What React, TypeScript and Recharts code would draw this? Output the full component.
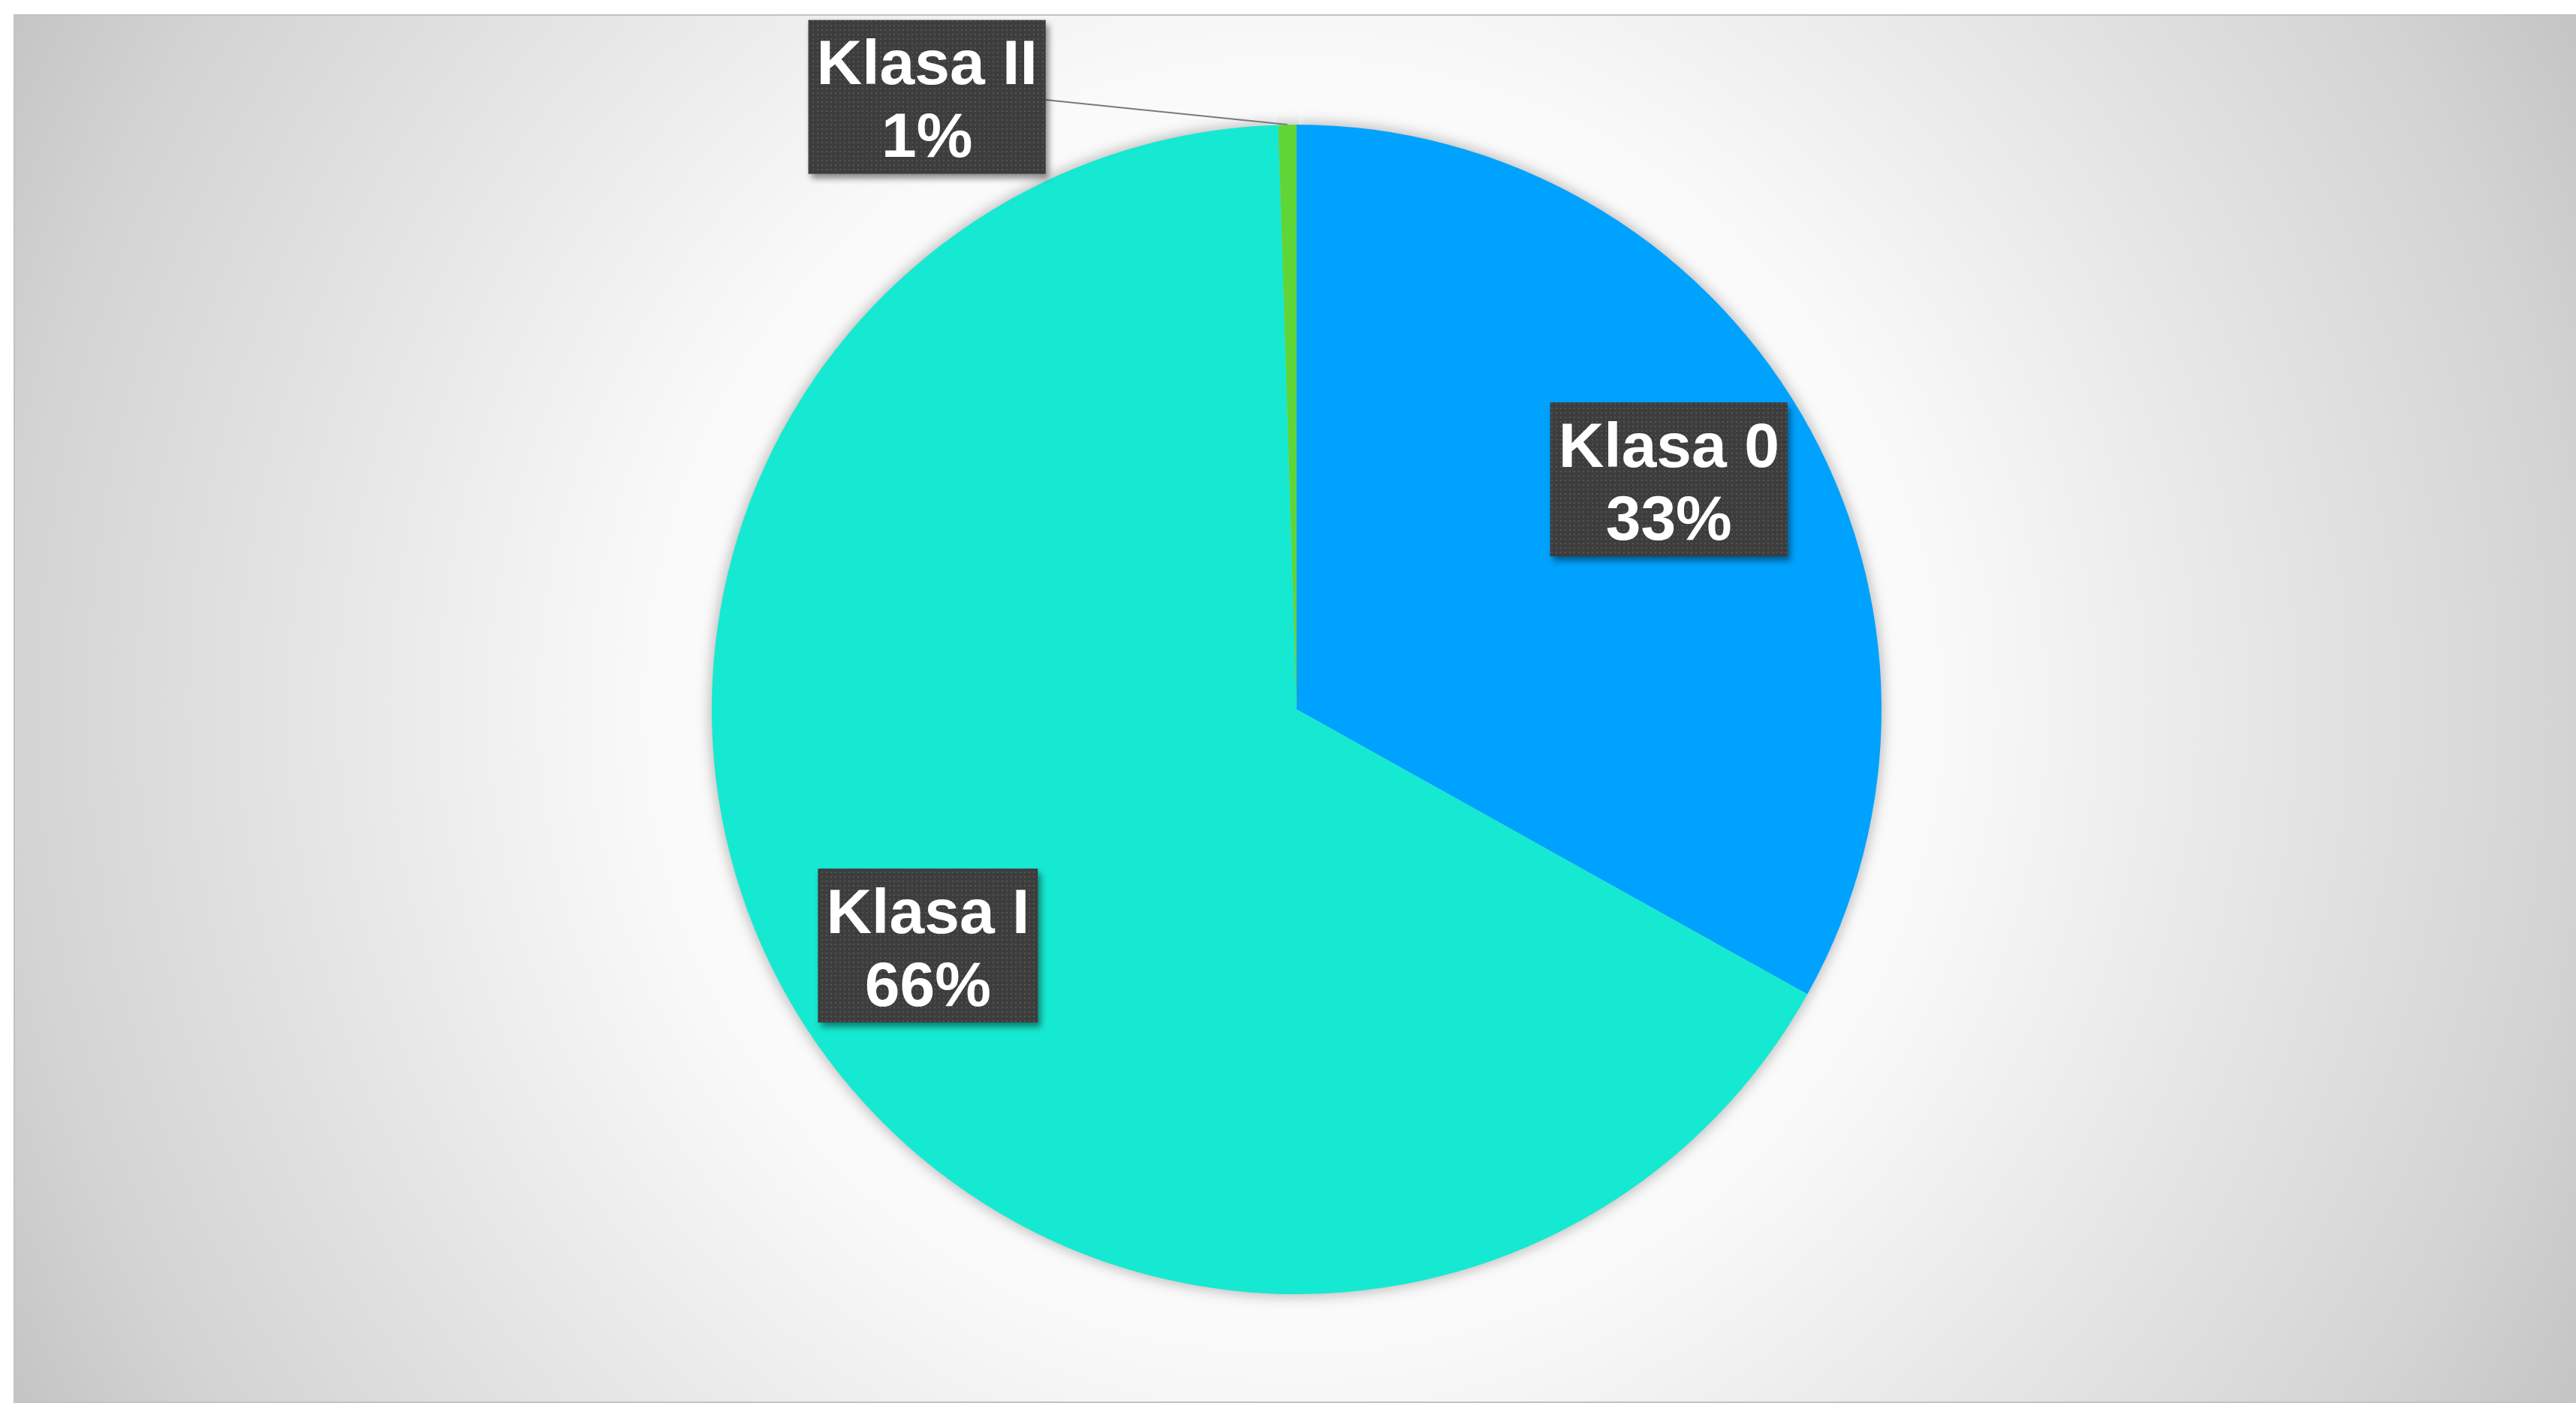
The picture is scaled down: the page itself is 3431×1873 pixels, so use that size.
import React from 'react';
import { PieChart, Pie, Cell } from 'recharts';

const names = ['Klasa 0', 'Klasa I', 'Klasa II'];
const values = [33.1, 66.4, 0.5];
const colors = ['#00A2FF', '#16E9D1', '#5FD637'];

const data = names.map((name, i) => ({ name, value: values[i] }));

const FONT = '"Liberation Sans", Arial, sans-serif';
const FONT_SIZE = 84;
const RAD = Math.PI / 180;

let measureCtx: CanvasRenderingContext2D | null = null;
const textWidth = (s: string) => {
  if (!measureCtx && typeof document !== 'undefined') {
    measureCtx = document.createElement('canvas').getContext('2d');
  }
  if (!measureCtx) return s.length * 47;
  measureCtx.font = `bold ${FONT_SIZE}px ${FONT}`;
  return measureCtx.measureText(s).width;
};

const renderLabel = (props: any) => {
  const { cx, cy, midAngle, outerRadius, percent, name } = props;
  const lines = [name, `${Math.round(percent * 100)}%`];
  const w = Math.max(...lines.map(textWidth)) + 22;
  const h = 205;
  let bx: number;
  let by: number;
  let leader: React.ReactNode = null;

  if (percent > 0.05) {
    // inside the slice, like Excel's best fit
    bx = cx + outerRadius * 0.738 * Math.cos(-midAngle * RAD);
    by = cy + outerRadius * 0.777 * Math.sin(-midAngle * RAD);
  } else {
    // tiny slice: box up-left with a leader line to the arc
    const ax = cx + outerRadius * Math.cos(-midAngle * RAD);
    const ay = cy + outerRadius * Math.sin(-midAngle * RAD);
    bx = ax - 322 - w / 2;
    by = ay - 37;
    leader = (
      <line x1={bx + w / 2} y1={by + 4} x2={ax} y2={ay} stroke="#7a7a7a" strokeWidth={2} />
    );
  }

  return (
    <g>
      {leader}
      <rect x={bx - w / 2} y={by - h / 2} width={w} height={h} fill="#3d3d3d" filter="url(#boxShadow)" />
      <rect x={bx - w / 2} y={by - h / 2} width={w} height={h} fill="url(#dots)" />
      <text
        x={bx}
        textAnchor="middle"
        fill="#ffffff"
        fontFamily={FONT}
        fontWeight="bold"
        fontSize={FONT_SIZE}
      >
        <tspan x={bx} y={by - 17}>{lines[0]}</tspan>
        <tspan x={bx} y={by + 80}>{lines[1]}</tspan>
      </text>
    </g>
  );
};

export default function App() {
  return (
    <div style={{ position: 'absolute', left: 0, top: 0, width: 3431, height: 1873, overflow: 'hidden', background: '#fff' }}>
      <svg width={0} height={0} style={{ position: 'absolute' }}>
        <defs>
          <pattern id="dots" width={6} height={6} patternUnits="userSpaceOnUse">
            <rect x={2} y={2} width={2} height={2} fill="#555555" />
          </pattern>
          <filter id="boxShadow" x="-20%" y="-20%" width="140%" height="140%">
            <feDropShadow dx={4} dy={6} stdDeviation={4} floodColor="#000" floodOpacity={0.45} />
          </filter>
          <filter id="pieShadow" x="-10%" y="-10%" width="120%" height="120%">
            <feGaussianBlur stdDeviation={9} />
          </filter>
        </defs>
      </svg>
      <div
        style={{
          position: 'absolute',
          left: 18,
          top: 19,
          width: 3430,
          height: 1850,
          boxSizing: 'border-box',
          border: '2px solid #c2c2c2',
          background:
            'radial-gradient(circle 1945px at 1702px 919px, #ffffff 0%, #fafafa 43%, #f6f6f6 48%, #d3d3d3 88%, #c4c4c4 100%)',
        }}
      >
        <div style={{ position: 'absolute', left: -2, top: -2 }}>
          <PieChart width={3413} height={1849}>
            <Pie
              data={data}
              dataKey="value"
              nameKey="name"
              cx={1704}
              cy={921}
              outerRadius={781}
              startAngle={90}
              endAngle={-270}
              stroke="none"
              isAnimationActive={false}
            >
              {data.map((entry, i) => (
                <Cell key={`s-${i}`} fill="#000000" fillOpacity={0.28} filter="url(#pieShadow)" />
              ))}
            </Pie>
            <Pie
              data={data}
              dataKey="value"
              nameKey="name"
              cx={1704}
              cy={921}
              outerRadius={779}
              startAngle={90}
              endAngle={-270}
              stroke="none"
              label={renderLabel}
              labelLine={false}
              isAnimationActive={false}
            >
              {data.map((entry, i) => (
                <Cell key={`c-${i}`} fill={colors[i]} />
              ))}
            </Pie>
          </PieChart>
        </div>
      </div>
    </div>
  );
}
